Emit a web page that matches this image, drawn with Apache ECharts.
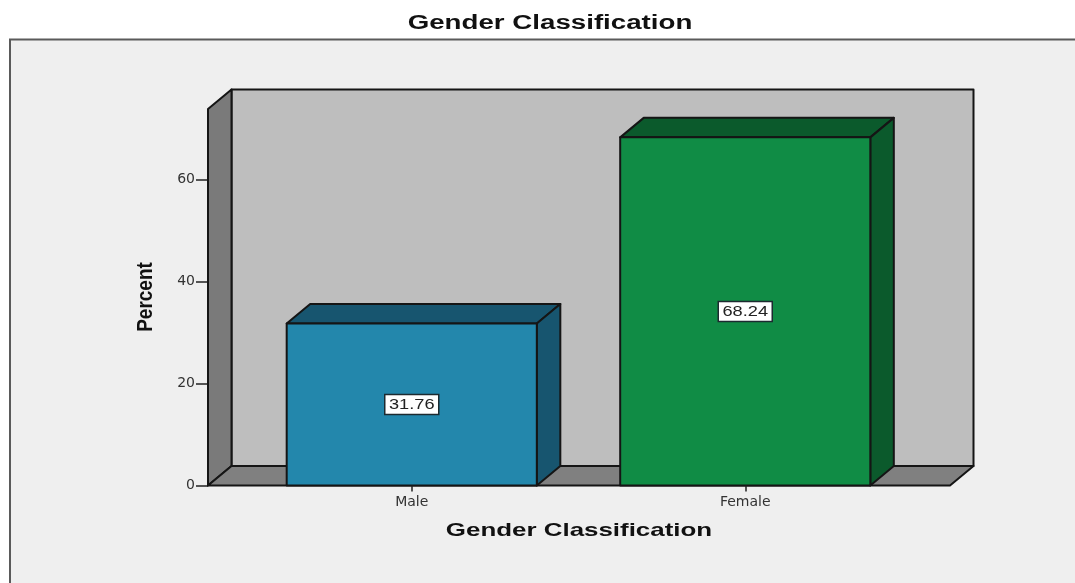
<!DOCTYPE html>
<html>
<head>
<meta charset="utf-8">
<title>Gender Classification</title>
<style>
  html, body { margin: 0; padding: 0; background: #fff; }
  #chart { width: 1075px; height: 583px; }
</style>
<script src="https://cdn.jsdelivr.net/npm/echarts@6/dist/echarts.min.js"></script>
</head>
<body>
<div id="chart"></div>
<script>
// values
const categories = ['Male', 'Female']
const percentValues = [31.76, 68.24]
const yTicks = [0, 20, 40, 60]
const chartTitle = 'Gender Classification'
const xTitle = 'Gender Classification'
const yTitle = 'Percent'

const frontColors = ['#2387ac', '#108c45']
const darkColors = ['#17556f', '#0b5a2c']

const yMax = 73.8
const depthX = 23.5
const depthY = 19.5
const wallPad = 37
const edge = '#151515'
const axisFont = 'DejaVu Sans'

const chart = echarts.init(document.getElementById('chart'))

function poly (points, fill, z2) {
  return {
    type: 'polygon',
    z2: z2,
    shape: { points: points },
    style: { fill: fill, stroke: edge, lineWidth: 2, lineJoin: 'round' }
  }
}

// back wall, side wall and floor of the 3D box
function renderWalls (params, api) {
  const box = params.coordSys
  const left = box.x - wallPad
  const right = box.x + box.width + wallPad + 1
  const bottom = api.coord([0, 0])[1]
  const top = api.coord([0, yMax])[1]
  return {
    type: 'group',
    children: [
      poly([[left + depthX, top - depthY], [right + depthX, top - depthY], [right + depthX, bottom - depthY], [left + depthX, bottom - depthY]], '#bebebe', 1),
      poly([[left, top], [left + depthX, top - depthY], [left + depthX, bottom - depthY], [left, bottom]], '#7a7a7a', 2),
      poly([[left, bottom], [left + depthX, bottom - depthY], [right + depthX, bottom - depthY], [right, bottom]], '#808080', 2)
    ]
  }
}

function renderBar (params, api) {
  const i = api.value(0)
  const val = api.value(1)
  const base = api.coord([i, 0])
  const head = api.coord([i, val])
  const w = api.size([1, 0])[0] * 0.75
  const x0 = base[0] - w / 2
  const x1 = base[0] + w / 2
  const midY = api.coord([i, val / 2])[1]
  return {
    type: 'group',
    children: [
      poly([[x0, head[1]], [x0 + depthX, head[1] - depthY], [x1 + depthX, head[1] - depthY], [x1, head[1]]], darkColors[i], 1),
      poly([[x1, head[1]], [x1 + depthX, head[1] - depthY], [x1 + depthX, base[1] - depthY], [x1, base[1]]], darkColors[i], 1),
      poly([[x0, head[1]], [x1, head[1]], [x1, base[1]], [x0, base[1]]], frontColors[i], 2),
      {
        type: 'rect',
        z2: 3,
        shape: { x: base[0] - 27, y: midY - 10, width: 54, height: 20 },
        style: { fill: '#fff', stroke: '#1c2a30', lineWidth: 1.5 }
      },
      {
        type: 'text',
        z2: 4,
        x: base[0],
        y: midY + 0.5,
        scaleX: 1.3,
        style: {
          text: val.toFixed(2),
          fontFamily: 'Liberation Sans',
          fontSize: 14,
          fill: '#222',
          align: 'center',
          verticalAlign: 'middle'
        }
      }
    ]
  }
}

function titleText (text, x, y, fontSize, scaleX) {
  return {
    type: 'text',
    x: x,
    y: y,
    scaleX: scaleX,
    style: {
      text: text,
      fontFamily: 'Liberation Sans',
      fontWeight: 'bold',
      fontSize: fontSize,
      fill: '#111',
      align: 'center',
      verticalAlign: 'middle'
    }
  }
}

chart.setOption({
  animation: false,
  backgroundColor: '#fff',
  grid: { left: 245, right: 163, top: 109, bottom: 97.5 },
  graphic: {
    elements: [
      {
        type: 'rect',
        z: -10,
        shape: { x: 10, y: 39.5, width: 1080, height: 560 },
        style: { fill: '#efefef', stroke: '#5a5a5a', lineWidth: 2 }
      },
      Object.assign(titleText(chartTitle, 550, 24, 19.5, 1.42), { z: 10 }),
      Object.assign(titleText(xTitle, 579, 530.5, 18.5, 1.4), { z: 10 }),
      Object.assign(titleText(yTitle, 146, 297, 19, 1), { z: 10, rotation: Math.PI / 2, scaleY: 1.15 })
    ]
  },
  xAxis: {
    type: 'category',
    data: categories,
    axisLine: { show: false },
    axisTick: { show: true, alignWithLabel: true, length: 6, lineStyle: { color: '#222', width: 1.5 } },
    axisLabel: { margin: 10, fontFamily: axisFont, fontSize: 14, color: '#333' },
    z: 5
  },
  yAxis: {
    type: 'value',
    min: 0,
    max: yMax,
    offset: wallPad,
    splitLine: { show: false },
    axisLine: { show: false },
    axisTick: { show: true, customValues: yTicks, length: 12, lineStyle: { color: '#222', width: 1.5 } },
    axisLabel: { customValues: yTicks, margin: 13, fontFamily: axisFont, fontSize: 14, color: '#333' }
  },
  series: [
    {
      type: 'custom',
      name: 'walls',
      renderItem: renderWalls,
      clip: false,
      silent: true,
      z: 1,
      encode: { x: 0, y: 1 },
      data: [[0, 0]]
    },
    {
      type: 'custom',
      name: 'Percent',
      renderItem: renderBar,
      clip: false,
      z: 2,
      encode: { x: 0, y: 1 },
      data: percentValues.map((v, i) => [i, v])
    }
  ]
})
</script>
</body>
</html>
